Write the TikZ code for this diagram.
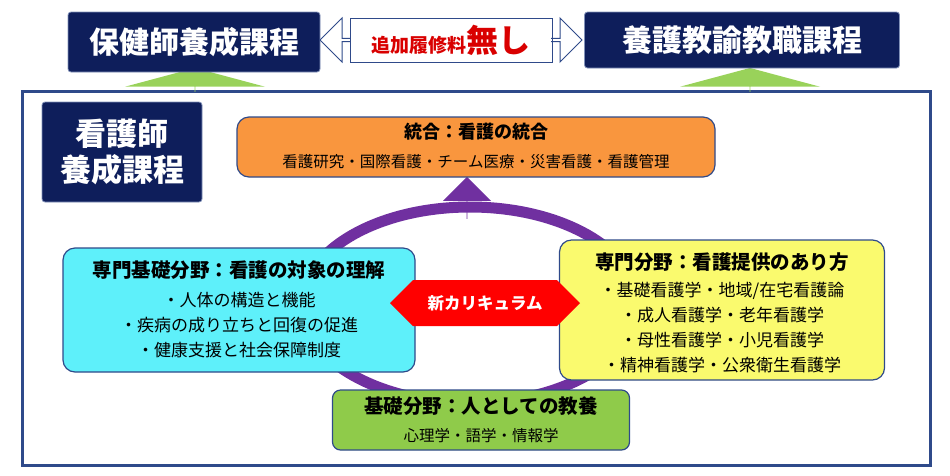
\documentclass[tikz,border=0pt]{standalone}
\usepackage{fontspec}
\setmainfont{Noto Sans CJK JP}
\usetikzlibrary{shapes.arrows}
\definecolor{navy}{HTML}{0E1E5B}
\definecolor{frame}{HTML}{2F4A8A}
\definecolor{lgreen}{HTML}{99D25A}
\definecolor{orng}{HTML}{F9963E}
\definecolor{cyanbox}{HTML}{5EF0FA}
\definecolor{yel}{HTML}{FAFA6E}
\definecolor{gbox}{HTML}{8FCB4A}
\definecolor{purp}{HTML}{7030A0}
\tikzset{
  scroll/.style={fill=navy,draw=frame!60,line width=0.8pt,rounded corners=3pt,text=white},
  rbox/.style={rounded corners=12pt,draw=frame,line width=1.2pt},
  uparrow/.style={single arrow,shape border rotate=90,single arrow head extend=42pt,single arrow tip angle=150,minimum height=24pt,minimum width=140pt,inner sep=0pt,draw=none,fill=lgreen}
}
\begin{document}
\begin{tikzpicture}[x=1pt,y=-1pt]
\useasboundingbox (0,0) rectangle (950,475);
% main frame
\draw[frame,line width=3pt,fill=white] (22,91) rectangle (930,465);
% green up arrows
\node[uparrow] (ga1) at (195,80) {};
\node[uparrow] (ga2) at (750,80) {};
% top banners
\node[scroll,minimum width=252pt,minimum height=60pt,font=\fontsize{30}{32}\selectfont\bfseries] (hok) at (194,42) {保健師養成課程};
\node[scroll,minimum width=315pt,minimum height=56pt,font=\fontsize{30}{32}\selectfont\bfseries] (yog) at (742,40) {養護教諭教職課程};
% middle double arrow
\node[double arrow,draw=frame,line width=1pt,fill=white,minimum height=262pt,minimum width=44pt,double arrow head extend=6pt,inner sep=0pt] (da) at (451,40) {};
\node[fill=white,minimum width=200pt,minimum height=38pt] (mid) at (451,40) {};
\draw[frame,line width=1pt] (350,18) rectangle (552,62);
\node[text=red!85!black,font=\bfseries] (mtx) at (451,40) {\fontsize{19}{20}\selectfont 追加履修料\fontsize{32}{34}\selectfont 無し};
% small scroll
\node[scroll,minimum width=160pt,minimum height=100pt,font=\fontsize{31}{36}\selectfont\bfseries,align=center] (kan) at (122,152) {看護師\\養成課程};
% purple ring
\draw[purp,line width=11pt] (470,305) ellipse (168pt and 98pt);
\node[single arrow,shape border rotate=90,fill=purp,minimum height=42pt,minimum width=48pt,single arrow head extend=11pt,inner sep=0pt] (pa) at (467,198) {};
% orange
\node[rbox,fill=orng,minimum width=478pt,minimum height=60pt] (ora) at (476,147) {};
\node[font=\fontsize{18}{20}\selectfont\bfseries] (orat) at (476,132) {統合：看護の統合};
\node[font=\fontsize{15.5}{18}\selectfont] (oras) at (476,162) {看護研究・国際看護・チーム医療・災害看護・看護管理};
% cyan
\node[rbox,fill=cyanbox,minimum width=352pt,minimum height=124pt] (cy) at (239,310) {};
\node[font=\fontsize{19.5}{22}\selectfont\bfseries] (cyt) at (239,270) {専門基礎分野：看護の対象の理解};
\node[font=\fontsize{17}{25}\selectfont,align=center] (cys) at (239,325) {・人体の構造と機能\\・疾病の成り立ちと回復の促進\\・健康支援と社会保障制度};
% yellow
\node[rbox,fill=yel,minimum width=325pt,minimum height=140pt] (ye) at (722,310) {};
\node[font=\fontsize{19.5}{22}\selectfont\bfseries] (yet) at (722,262) {専門分野：看護提供のあり方};
\node[font=\fontsize{17}{25}\selectfont,align=center] (yes) at (722,328) {・基礎看護学・地域/在宅看護論\\・成人看護学・老年看護学\\・母性看護学・小児看護学\\・精神看護学・公衆衛生看護学};
% red double arrow
\node[double arrow,fill=red,minimum height=190pt,minimum width=46pt,double arrow head extend=0pt,double arrow head indent=0pt,inner sep=0pt,text=white] (ra) at (485,303) {};
\node[text=white,font=\fontsize{16.5}{18}\selectfont\bfseries] (rat) at (485,303) {新カリキュラム};
% green bottom
\node[rbox,fill=gbox,rounded corners=8pt,minimum width=297pt,minimum height=60pt] (gb) at (481,420) {};
\node[font=\fontsize{19.5}{22}\selectfont\bfseries] (gbt) at (481,406) {基礎分野：人としての教養};
\node[font=\fontsize{15.5}{18}\selectfont] (gbs) at (481,436) {心理学・語学・情報学};
\end{tikzpicture}
\end{document}
